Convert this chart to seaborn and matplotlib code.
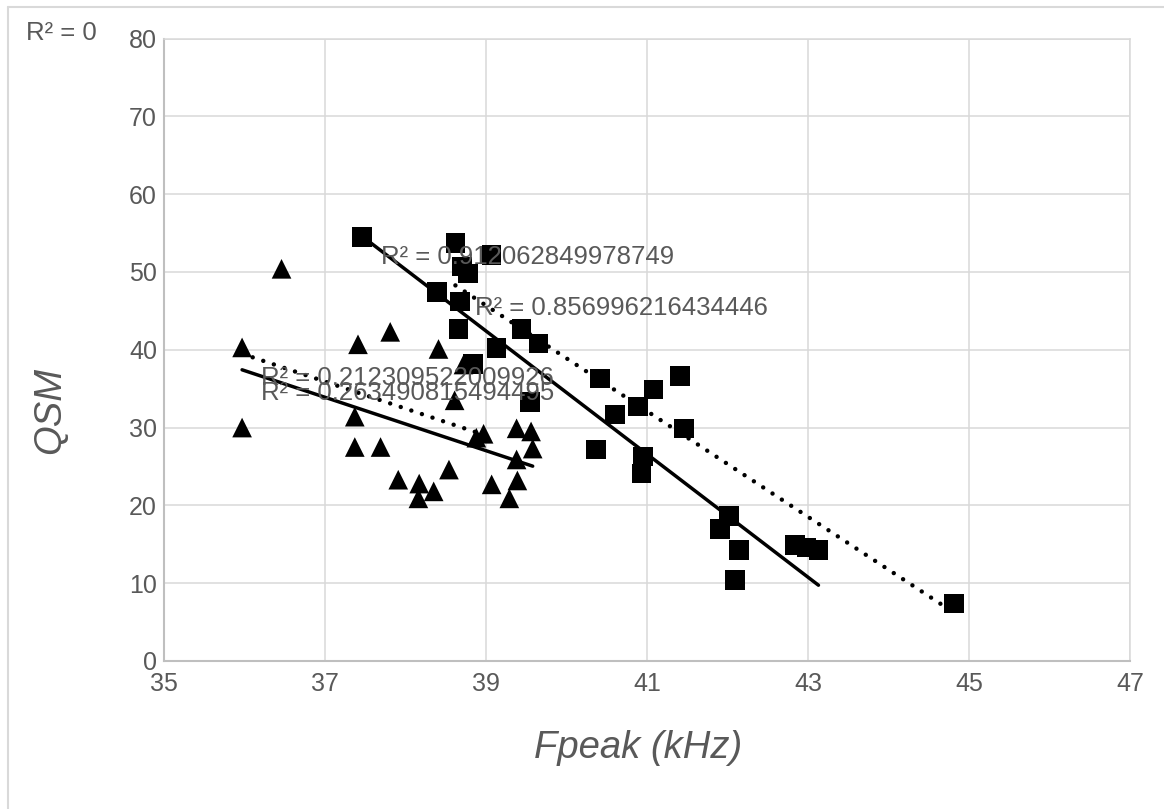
import numpy as np
import pandas as pd
import matplotlib
matplotlib.use("Agg")
import matplotlib.pyplot as plt
import seaborn as sns
from matplotlib.lines import Line2D

# square series, two groups (solid / dotted trendline)
sq1_x = [37.46, 38.39, 38.68, 38.66, 39.13, 38.84, 39.55, 40.60, 40.37, 40.95, 40.93,
         42.02, 41.91, 42.14, 42.09, 42.84, 42.98, 43.13]
sq1_y = [54.5, 47.4, 46.2, 42.7, 40.2, 38.2, 33.3, 31.7, 27.2, 26.3, 24.1,
         18.6, 17.0, 14.3, 10.4, 14.9, 14.6, 14.3]
sq2_x = [38.62, 39.07, 38.70, 38.78, 39.44, 39.65, 40.42, 41.41, 41.08, 40.89, 41.46, 44.81]
sq2_y = [53.7, 52.2, 50.7, 49.8, 42.7, 40.8, 36.3, 36.6, 34.9, 32.7, 29.9, 7.4]

# triangle series, two groups
tri1_x = [35.97, 37.37, 37.69, 37.91, 38.17, 38.16, 38.35, 38.54, 39.38, 39.56, 39.58,
          39.38, 39.39, 39.07, 39.29]
tri1_y = [30.0, 27.5, 27.5, 23.3, 22.8, 20.9, 21.8, 24.6, 29.9, 29.5, 27.3,
          25.9, 23.2, 22.7, 20.9]
tri2_x = [35.97, 36.46, 37.41, 37.81, 38.41, 38.72, 38.61, 37.37, 38.88, 38.97]
tri2_y = [40.3, 50.4, 40.7, 42.3, 40.1, 38.1, 33.5, 31.4, 28.7, 29.2]

series_names = ["sq_a", "sq_b", "tri_a", "tri_b"]
series_x = [sq1_x, sq2_x, tri1_x, tri2_x]
series_y = [sq1_y, sq2_y, tri1_y, tri2_y]

# linear trendlines and their R² labels
trend_slope = [-7.91, -6.79, -3.43, -3.47]
trend_intercept = [350.9, 310.5, 160.8, 164.3]
r2_labels = ["R² = 0.912062849978749", "R² = 0.856996216434446",
             "R² = 0.263490815494495", "R² = 0.212309522009926"]
empty_r2 = "R² = 0"

x_ticks = [35, 37, 39, 41, 43, 45, 47]
y_ticks = [0, 10, 20, 30, 40, 50, 60, 70, 80]

frames = []
for name, xs, ys in zip(series_names, series_x, series_y):
    frames.append(pd.DataFrame({"Fpeak": xs, "QSM": ys, "series": name}))
df = pd.concat(frames, ignore_index=True)

sns.set_theme(style="whitegrid")
plt.rcParams['font.family'] = ['Liberation Sans', 'DejaVu Sans']

GRAY_TXT = "#595959"
W, H = 1164, 809
fig = plt.figure(figsize=(W / 100, H / 100), dpi=100)
ax = fig.add_axes([164 / W, 1 - 661 / H, 966 / W, 622.5 / H])

markers = {"sq_a": "s", "sq_b": "s", "tri_a": "^", "tri_b": "^"}
sns.scatterplot(data=df, x="Fpeak", y="QSM", style="series", markers=markers,
                color="black", s=200, linewidth=0, legend=False, ax=ax, zorder=3)

line_styles = ["-", (0, (0.01, 2.5)), "-", (0, (0.01, 2.5))]
line_widths = [2.5, 3.2, 2.5, 3.2]
for xs, m, b, ls, lw in zip(series_x, trend_slope, trend_intercept, line_styles, line_widths):
    xr = np.array([min(xs), max(xs)])
    ax.plot(xr, m * xr + b, color="black", ls=ls, lw=lw,
            solid_capstyle="round", dash_capstyle="round", zorder=4)

# R² labels, placed where the chart has them
label_pos = [(37.70, 51.9), (38.86, 45.4), (36.21, 34.4), (36.21, 36.4)]
for txt, (lx, ly) in zip(r2_labels, label_pos):
    ax.text(lx, ly, txt, fontsize=18.5, color=GRAY_TXT, ha="left", va="center", zorder=6)
fig.text(26 / W, 1 - 33 / H, empty_r2, fontsize=18.5, color=GRAY_TXT, ha="left", va="center")

ax.set_xlim(35, 47)
ax.set_ylim(0, 80)
ax.set_xticks(x_ticks)
ax.set_yticks(y_ticks)
ax.tick_params(labelsize=18, colors=GRAY_TXT, length=0)
ax.tick_params(axis="x", pad=8)
ax.tick_params(axis="y", pad=5)
ax.grid(True, color="#d9d9d9", lw=1.1)
ax.set_axisbelow(True)
for side in ["left", "bottom"]:
    ax.spines[side].set_color("#bfbfbf")
    ax.spines[side].set_linewidth(1.5)
for side in ["top", "right"]:
    ax.spines[side].set_color("#d9d9d9")
    ax.spines[side].set_linewidth(1.1)

ax.set_xlabel("Fpeak (kHz)", fontsize=27.5, style="italic", color=GRAY_TXT)
ax.set_ylabel("QSM", fontsize=27.5, style="italic", color=GRAY_TXT)
ax.xaxis.set_label_coords((638 - 164) / 966, (661 - 748) / 622.5)
ax.xaxis.label.set_va("center")
ax.yaxis.set_label_coords((50 - 164) / 966, (661 - 410) / 622.5)
ax.yaxis.label.set_va("center")

# outer chart frame (only left and top edges fall inside the picture)
fig.add_artist(Line2D([8 / W, 8 / W], [0, 1 - 7 / H], transform=fig.transFigure,
                      color="#d9d9d9", lw=1.5))
fig.add_artist(Line2D([8 / W, 1], [1 - 7 / H, 1 - 7 / H], transform=fig.transFigure,
                      color="#d9d9d9", lw=1.5))

fig.savefig("out.png", dpi=100)
